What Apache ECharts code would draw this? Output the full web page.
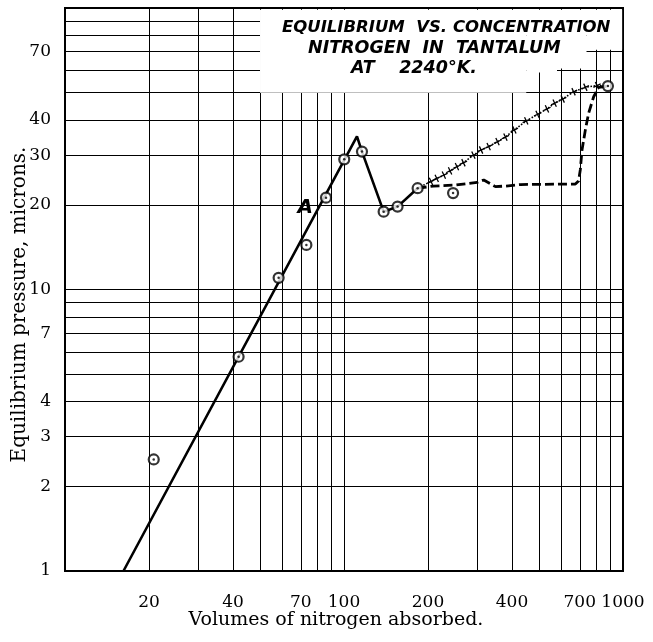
<!DOCTYPE html>
<html>
<head>
<meta charset="utf-8">
<script src="https://cdn.jsdelivr.net/npm/echarts@6.0.0/dist/echarts.min.js"></script>
<style>
html, body { margin: 0; padding: 0; background: #fff; }
#chart { width: 653px; height: 642px; }
</style>
</head>
<body>
<div id="chart"></div>
<script>
// log paper lines and the labelled values
var xGrid = [10, 20, 30, 40, 50, 60, 70, 80, 90, 100, 200, 300, 400, 500, 600, 700, 800, 900, 1000];
var xLabels = [20, 40, 70, 100, 200, 400, 700, 1000];
var yGrid = [1, 2, 3, 4, 5, 6, 7, 8, 9, 10, 20, 30, 40, 50, 60, 70, 80, 90, 100];
var yLabels = [1, 2, 3, 4, 7, 10, 20, 30, 40, 70];

// measured points (circles)
var circleX = [20.8, 41.9, 58.3, 73.3, 86.2, 100.2, 116, 138.7, 155.6, 183.6, 246, 883];
var circleY = [2.49, 5.77, 11.0, 14.4, 21.2, 29.0, 30.9, 18.9, 19.7, 22.9, 22.0, 52.8];

// solid curve
var solidX = [16.2, 111.3, 116, 138.7, 155.6, 183.6];
var solidY = [1, 35.0, 30.9, 18.9, 19.7, 22.9];

// dotted curve with crosses
var crossX = [183.6, 205, 215, 228, 240, 254, 268, 291, 310, 330, 355, 379, 408, 450, 494, 534, 569, 608, 665, 733, 807, 883];
var crossY = [22.9, 24.2, 24.8, 25.5, 26.4, 27.3, 28.2, 30.0, 31.3, 32.2, 33.5, 34.8, 36.9, 39.7, 41.9, 43.8, 45.9, 47.5, 50.4, 52.3, 53.0, 52.8];

// dashed curve
var dashX = [183.6, 209, 251, 300, 317, 349, 379, 429, 675, 693, 703, 713, 733, 753, 785, 818, 883];
var dashY = [22.9, 23.3, 23.5, 24.0, 24.5, 23.2, 23.3, 23.6, 23.7, 24.3, 26.6, 31.3, 36.9, 42.3, 48.4, 52.2, 52.8];

var titleLines = ['EQUILIBRIUM  VS. CONCENTRATION', 'NITROGEN  IN  TANTALUM', 'AT    2240°K.'];

function pairs(xs, ys) {
	var out = [];
	for (var i = 0; i < xs.length; i++) {
		out.push([xs[i], ys[i]]);
	}
	return out;
}

function plainNum(v) {
	return String(Math.round(v));
}

var serif = 'DejaVu Serif';
var crossPath = 'path://M4.2,0h1.6v10h-1.6z M0,4.2h10v1.6h-10z';

// cross series: the two end points are circles, not crosses
var crossData = pairs(crossX, crossY).map(function (p, i) {
	if (i == 0 || i == crossX.length - 1) {
		return { value: p, symbol: 'none' };
	}
	return p;
});

// white box behind the title (steps follow the paper)
var titleBox = [
	[{ xAxis: 50, yAxis: 50 }, { xAxis: 450, yAxis: 98.6 }],
	[{ xAxis: 450, yAxis: 59 }, { xAxis: 580, yAxis: 98.6 }],
	[{ xAxis: 580, yAxis: 61 }, { xAxis: 740, yAxis: 98.6 }],
	[{ xAxis: 740, yAxis: 71 }, { xAxis: 993, yAxis: 98.6 }]
];

function titleStyle(size) {
	return {
		fontFamily: 'DejaVu Sans',
		fontStyle: 'italic',
		fontWeight: 'bold',
		fontSize: size,
		color: '#000'
	};
}

var option = {
	animation: false,
	backgroundColor: '#fff',
	title: [
		{ text: titleLines[0], left: 282, top: 19, padding: 0, textStyle: titleStyle(16.5) },
		{ text: titleLines[1], left: 308, top: 39, padding: 0, textStyle: titleStyle(17.5) },
		{ text: titleLines[2], left: 351, top: 59, padding: 0, textStyle: titleStyle(17.5) }
	],
	grid: {
		left: 65, right: 30, top: 8, bottom: 71,
		outerBoundsMode: 'none',
		show: true,
		borderColor: '#000',
		borderWidth: 2
	},
	xAxis: {
		type: 'log',
		logBase: 10,
		min: 10,
		max: 1000,
		name: 'Volumes of nitrogen absorbed.',
		nameLocation: 'middle',
		nameGap: 40,
		nameMoveOverlap: false,
		nameTextStyle: { fontFamily: serif, fontSize: 19, color: '#000', padding: [0, 16, 0, 0] },
		axisLine: { show: false },
		axisTick: { show: false, customValues: xGrid },
		axisLabel: { customValues: xLabels, formatter: plainNum, margin: 23, fontFamily: serif, fontSize: 17, color: '#000' },
		splitLine: { show: true, lineStyle: { color: '#000', width: 1 } }
	},
	yAxis: {
		type: 'log',
		logBase: 10,
		min: 1,
		max: 100,
		name: 'Equilibrium pressure, microns.',
		nameLocation: 'middle',
		nameGap: 35,
		nameMoveOverlap: false,
		nameTextStyle: { fontFamily: serif, fontSize: 20, color: '#000', padding: [0, 30, 0, 0] },
		axisLine: { show: false },
		axisTick: { show: false, customValues: yGrid },
		axisLabel: { customValues: yLabels, formatter: plainNum, margin: 14, fontFamily: serif, fontSize: 17, color: '#000' },
		splitLine: { show: true, lineStyle: { color: '#000', width: 1 } }
	},
	series: [
		{
			type: 'line',
			data: pairs(solidX, solidY),
			symbol: 'none',
			lineStyle: { color: '#000', width: 2.6 },
			markArea: {
				silent: true,
				itemStyle: { color: '#fff', opacity: 1 },
				data: titleBox
			},
			markPoint: {
				symbol: 'circle',
				symbolSize: 1,
				itemStyle: { color: 'rgba(0,0,0,0)' },
				label: {
					show: true, formatter: 'A', position: 'inside',
					fontFamily: 'DejaVu Sans', fontStyle: 'italic', fontWeight: 'bold',
					fontSize: 20, color: '#000'
				},
				data: [{ coord: [72.6, 19.5] }]
			}
		},
		{
			type: 'line',
			data: crossData,
			symbol: crossPath,
			symbolSize: 8,
			symbolRotate: 25,
			itemStyle: { color: '#000' },
			lineStyle: { color: '#000', width: 1.6, type: 'dotted' }
		},
		{
			type: 'line',
			data: pairs(dashX, dashY),
			symbol: 'none',
			lineStyle: { color: '#000', width: 2.8, type: [9, 4] }
		},
		{
			type: 'scatter',
			data: pairs(circleX, circleY),
			symbol: 'circle',
			symbolSize: 10,
			itemStyle: { color: '#fff', borderColor: '#000', borderWidth: 2.2 },
			z: 5
		},
		{
			type: 'scatter',
			data: pairs(circleX, circleY),
			symbol: 'circle',
			symbolSize: 2.5,
			itemStyle: { color: '#000' },
			z: 6
		}
	]
};

var myChart = echarts.init(document.getElementById('chart'));
myChart.setOption(option);
</script>
</body>
</html>
